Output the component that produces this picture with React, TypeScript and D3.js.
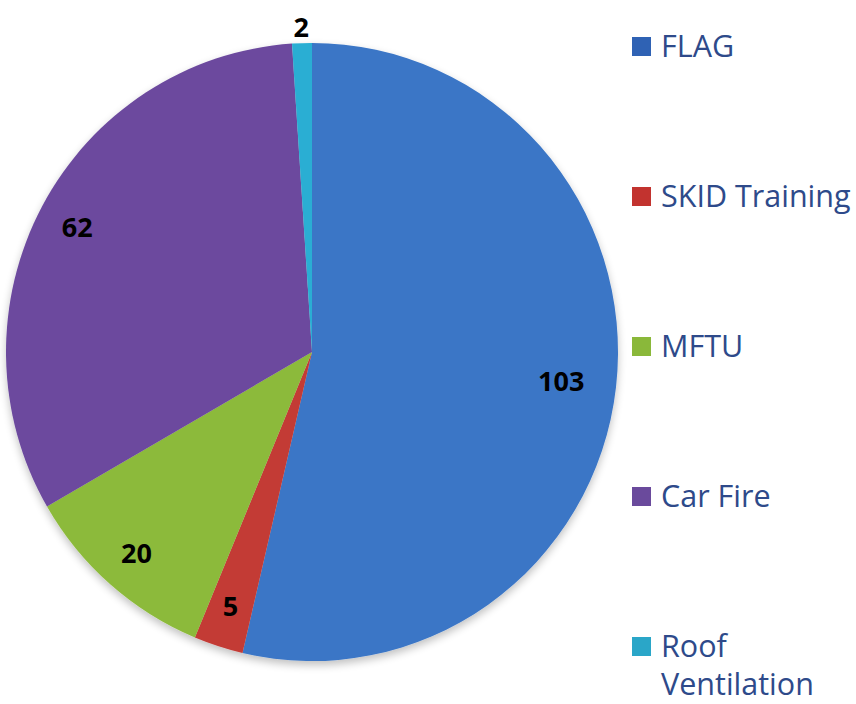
import React from "react";
import * as d3 from "d3";

const categories = ["FLAG", "SKID Training", "MFTU", "Car Fire", "Roof Ventilation"];
const values = [103, 5, 20, 62, 2];
const colors = ["#3B76C6", "#C33B36", "#8CBA3A", "#6C4A9E", "#2AAED3"];
const legendColors = ["#2F62B4", "#C2332F", "#8AB83A", "#6A4A9C", "#2AA6C8"];
const legendLines = [["FLAG"], ["SKID Training"], ["MFTU"], ["Car Fire"], ["Roof", "Ventilation"]];

const W = 856, H = 704;
const cx = 312, cy = 352, R = 306;

export default function App() {
  const pie = d3.pie<number>().sort(null).value((d) => d)(values);
  const arc = d3.arc<d3.PieArcDatum<number>>().innerRadius(0).outerRadius(R);
  const legendY = d3.scaleLinear().domain([0, 4]).range([57, 657]);
  return (
    <svg width={W} height={H} style={{ position: "absolute", left: 0, top: 0, background: "#fff" }}>
      <defs>
        <filter id="sh" x="-10%" y="-10%" width="120%" height="120%">
          <feGaussianBlur in="SourceAlpha" stdDeviation="4" />
          <feOffset dx="0" dy="4" />
          <feComponentTransfer><feFuncA type="linear" slope="0.25" /></feComponentTransfer>
          <feMerge><feMergeNode /><feMergeNode in="SourceGraphic" /></feMerge>
        </filter>
      </defs>
      <g transform={`translate(${cx},${cy}) scale(1,1.01)`} filter="url(#sh)">
        {pie.map((p, i) => (
          <path key={i} d={arc(p) || ""} fill={colors[i]} />
        ))}
      </g>
      <g transform={`translate(${cx},${cy})`}>
        {pie.map((p, i) => {
          const a = (p.startAngle + p.endAngle) / 2;
          const r = p.value < 3 ? R + 20 : p.value > 80 ? R * 0.82 : R * 0.87;
          const x = Math.sin(a) * r;
          const y = -Math.cos(a) * r;
          return (
            <text key={i} x={x} y={y} textAnchor="middle" dominantBaseline="central"
              fontFamily="'Open Sans', sans-serif" fontWeight="bold" fontSize={27} fill="#000">
              {values[i]}
            </text>
          );
        })}
      </g>
      <g>
        {categories.map((c, i) => {
          const y = legendY(i);
          return (
            <g key={c}>
              <rect x={632} y={y - 20} width={19} height={19} fill={legendColors[i]} />
              {legendLines[i].map((ln, j) => (
                <text key={j} x={661} y={y + j * 38}
                  fontFamily="'Open Sans', sans-serif" fontSize={30.5} fill="#2E4A8A">
                  {ln}
                </text>
              ))}
            </g>
          );
        })}
      </g>
    </svg>
  );
}
